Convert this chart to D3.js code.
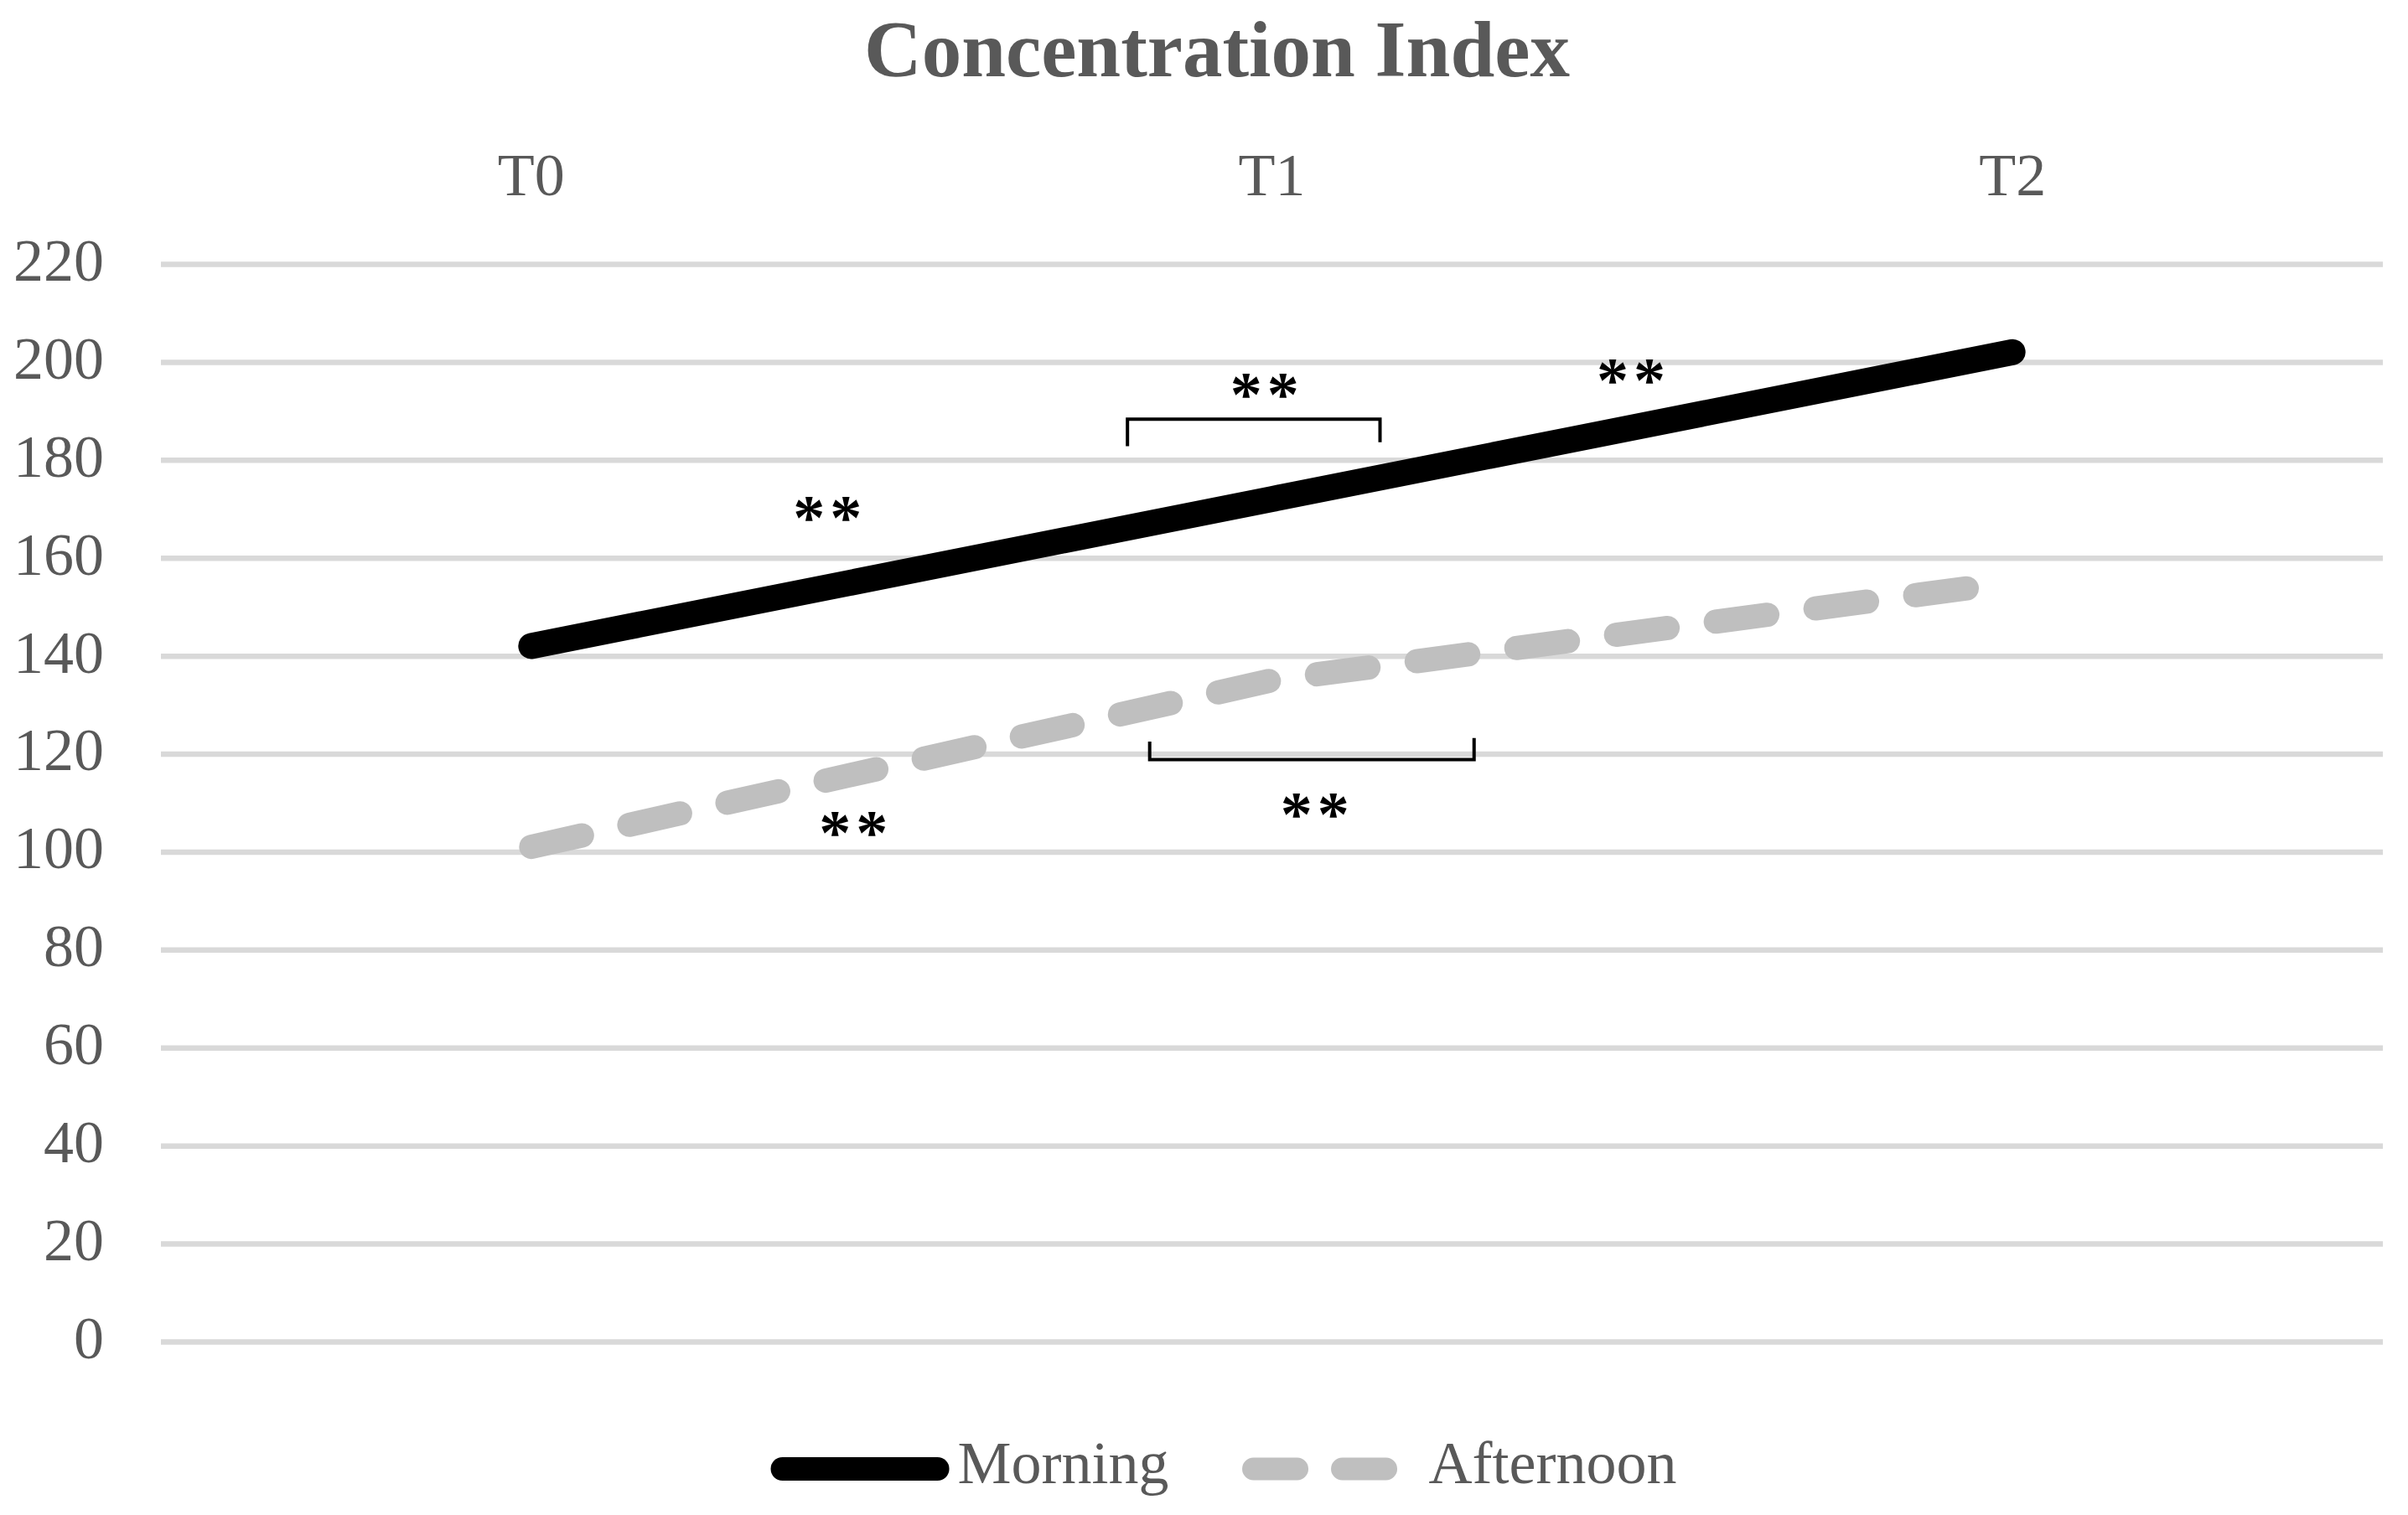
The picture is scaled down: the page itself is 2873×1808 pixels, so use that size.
<!DOCTYPE html>
<html>
<head>
<meta charset="utf-8">
<script src="https://cdnjs.cloudflare.com/ajax/libs/d3/7.8.5/d3.min.js"></script>
<style>
  body { margin: 0; background: #fff; }
  svg { display: block; }
</style>
</head>
<body>
<div id="chart"></div>
<script>
// chart values
const categories = ['T0', 'T1', 'T2'];
const morning = [142, 172, 202];
const afternoon = [101, 135, 155];
const yTicks = [0, 20, 40, 60, 80, 100, 120, 140, 160, 180, 200, 220];
const seriesNames = ['Morning', 'Afternoon'];
// significance marks: position between categories (0 = T0 .. 2 = T2), value in index units
const starPos = [0.40, 0.99, 1.485, 1.058, 0.435];
const starVal = [170, 195.2, 198.1, 109.4, 105.6];
const bracketFrom = [0.805, 0.835];
const bracketTo = [1.146, 1.273];
const bracketVal = [188.3, 118.8];
const bracketTipFrom = [182.8, 122.5];
const bracketTipTo = [183.6, 123.2];

// dimensions
const w = 2873;
const h = 1808;
const padLeft = 192, padRight = 2843, padTop = 315, padBottom = 1601;
const serif = '"Liberation Serif", "DejaVu Serif", serif';
const grey = '#595959';

const svg = d3.select('#chart').append('svg')
  .attr('width', w)
  .attr('height', h);

// scales
const x = d3.scaleBand().domain(categories).range([padLeft, padRight]);
const xc = d => x(d) + x.bandwidth() / 2;
const xi = d3.scaleLinear()
  .domain([0, categories.length - 1])
  .range([xc(categories[0]), xc(categories[categories.length - 1])]);
const y = d3.scaleLinear().domain([0, 220]).range([padBottom, padTop]);

// title
svg.append('text')
  .attr('x', 1452)
  .attr('y', 91)
  .attr('text-anchor', 'middle')
  .attr('font-family', serif)
  .attr('font-weight', 'bold')
  .attr('font-size', 95)
  .attr('fill', grey)
  .text('Concentration Index');

// y axis with gridlines
svg.append('g')
  .attr('transform', 'translate(' + padLeft + ',0)')
  .call(d3.axisLeft(y).tickValues(yTicks).tickSize(-(padRight - padLeft)).tickPadding(68))
  .call(g => g.select('.domain').remove())
  .call(g => g.selectAll('.tick line').attr('stroke', '#d9d9d9').attr('stroke-width', 6.5))
  .call(g => g.selectAll('.tick text')
    .attr('fill', grey)
    .attr('font-family', serif)
    .attr('font-size', 72)
    .attr('dy', '0.27em'));

// x axis on top
svg.append('g')
  .attr('transform', 'translate(0,' + padTop + ')')
  .call(d3.axisTop(x).tickSize(0).tickPadding(82))
  .call(g => g.select('.domain').remove())
  .call(g => g.selectAll('.tick text')
    .attr('fill', grey)
    .attr('font-family', serif)
    .attr('font-size', 72));

// lines
const line = d3.line()
  .x((d, i) => xc(categories[i]))
  .y(d => y(d));

svg.append('path')
  .datum(afternoon)
  .attr('d', line)
  .attr('fill', 'none')
  .attr('stroke', '#bfbfbf')
  .attr('stroke-width', 29)
  .attr('stroke-linecap', 'round')
  .attr('stroke-linejoin', 'round')
  .attr('stroke-dasharray', '62 58');

svg.append('path')
  .datum(morning)
  .attr('d', line)
  .attr('fill', 'none')
  .attr('stroke', '#000')
  .attr('stroke-width', 31)
  .attr('stroke-linecap', 'round')
  .attr('stroke-linejoin', 'round');

// brackets
svg.selectAll('.bracket').data(bracketVal).enter().append('path')
  .attr('class', 'bracket')
  .attr('d', (d, i) => 'M' + xi(bracketFrom[i]) + ',' + y(bracketTipFrom[i]) +
    'V' + y(d) + 'H' + xi(bracketTo[i]) + 'V' + y(bracketTipTo[i]))
  .attr('fill', 'none')
  .attr('stroke', '#000')
  .attr('stroke-width', 4);

// stars
svg.selectAll('.stars').data(starVal).enter().append('text')
  .attr('class', 'stars')
  .attr('x', (d, i) => xi(starPos[i]) + 3)
  .attr('y', d => y(d))
  .attr('dy', '0.47em')
  .attr('text-anchor', 'middle')
  .attr('font-family', serif)
  .attr('font-weight', 'bold')
  .attr('font-size', 76)
  .attr('letter-spacing', 6)
  .attr('fill', '#000')
  .text('**');

// legend
const legend = svg.append('g');
const sampleW = 213;
let cx = 0;
seriesNames.forEach((name, i) => {
  const item = legend.append('g').attr('transform', 'translate(' + cx + ',0)');
  const sample = item.append('line')
    .attr('x1', 14).attr('x2', sampleW - 14)
    .attr('y1', 1753).attr('y2', 1753)
    .attr('stroke-linecap', 'round');
  if (i === 0) {
    sample.attr('stroke', '#000').attr('stroke-width', 28);
  } else {
    sample.attr('stroke', '#bfbfbf').attr('stroke-width', 27).attr('stroke-dasharray', '52 54');
  }
  const t = item.append('text')
    .attr('x', sampleW + 10)
    .attr('y', 1770)
    .attr('font-family', serif)
    .attr('font-size', 72)
    .attr('fill', grey)
    .text(name);
  cx += sampleW + 10 + t.node().getComputedTextLength() + 87;
});
const legendW = cx - 87;
legend.attr('transform', 'translate(' + (1460 - legendW / 2) + ',0)');
</script>
</body>
</html>
